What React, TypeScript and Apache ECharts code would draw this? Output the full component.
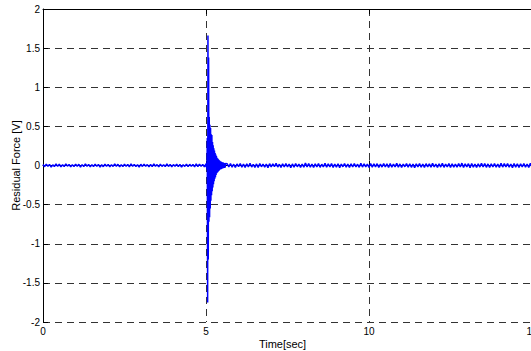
import React, { useEffect, useRef } from "react";
import * as echarts from "echarts";

// Tick values
const xTicks = [0, 5, 10, 15];
const yTicks = [-2, -1.5, -1, -0.5, 0, 0.5, 1, 1.5, 2];

// Sampling of the noise segments (seconds between samples)
const noiseStep = 0.05;
const preStart = 0;
const postStart = 5.65;

// Baseline noise before the impact (t = 0 .. 4.95)
const preNoise = [
  0.012, -0.015, 0.018, -0.009, 0.014, -0.02, 0.008, -0.013, 0.019, -0.011,
  0.016, -0.018, 0.01, -0.014, 0.021, -0.008, 0.013, -0.017, 0.009, -0.012,
  0.017, -0.01, 0.015, -0.019, 0.011, -0.014, 0.02, -0.009, 0.012, -0.016,
  0.01, -0.013, 0.018, -0.011, 0.014, -0.02, 0.009, -0.015, 0.016, -0.01,
  0.013, -0.017, 0.011, -0.012, 0.019, -0.009, 0.015, -0.018, 0.01, -0.014,
  0.017, -0.011, 0.012, -0.016, 0.02, -0.01, 0.014, -0.013, 0.009, -0.019,
  0.015, -0.012, 0.018, -0.009, 0.011, -0.017, 0.013, -0.015, 0.02, -0.01,
  0.012, -0.018, 0.016, -0.011, 0.01, -0.014, 0.019, -0.012, 0.014, -0.016,
  0.011, -0.01, 0.017, -0.015, 0.013, -0.019, 0.009, -0.012, 0.018, -0.014,
  0.015, -0.011, 0.012, -0.017, 0.02, -0.013, 0.016, -0.01, 0.014, -0.018,
];

// Impact transient (time [s], force [V])
const spikeTimes = [
  5.0, 5.01, 5.02, 5.03, 5.04, 5.05, 5.06, 5.07, 5.08, 5.09,
  5.1, 5.11, 5.12, 5.13, 5.14, 5.15, 5.16, 5.17, 5.18, 5.19,
  5.2, 5.21, 5.22, 5.23, 5.24, 5.25, 5.26, 5.27, 5.28, 5.29,
  5.3, 5.31, 5.32, 5.33, 5.34, 5.35, 5.36, 5.37, 5.38, 5.39,
  5.4, 5.41, 5.42, 5.43, 5.44, 5.45, 5.46, 5.47, 5.48, 5.49,
  5.5, 5.51, 5.52, 5.53, 5.54, 5.55, 5.56, 5.57, 5.58, 5.59, 5.6,
];
const spikeValues = [
  0.02, -0.02, 0.03, -0.05, 0.35, -1.75, 1.66, -1.2, 1.38, -0.72,
  0.62, -0.66, 0.52, -0.55, 0.48, -0.45, 0.4, -0.38, 0.39, -0.33,
  0.3, -0.28, 0.26, -0.24, 0.22, -0.2, 0.19, -0.17, 0.16, -0.15,
  0.14, -0.12, 0.12, -0.1, 0.1, -0.09, 0.09, -0.08, 0.08, -0.07,
  0.07, -0.06, 0.06, -0.05, 0.055, -0.05, 0.05, -0.045, 0.045, -0.04,
  0.04, -0.035, 0.04, -0.035, 0.035, -0.03, 0.03, -0.03, 0.03, -0.025, 0.025,
];

// Baseline noise after the impact (t = 5.65 .. 15.0)
const postNoise = [
  0.022, -0.018, 0.025, -0.02, 0.016, -0.024, 0.019, -0.015, 0.026, -0.021,
  0.018, -0.025, 0.021, -0.017, 0.028, -0.019, 0.015, -0.023, 0.02, -0.026,
  0.024, -0.016, 0.019, -0.022, 0.017, -0.027, 0.023, -0.018, 0.021, -0.015,
  0.027, -0.02, 0.016, -0.024, 0.022, -0.019, 0.025, -0.017, 0.018, -0.028,
  0.02, -0.022, 0.026, -0.016, 0.019, -0.025, 0.017, -0.021, 0.03, -0.018,
  0.023, -0.02, 0.018, -0.026, 0.021, -0.017, 0.024, -0.023, 0.016, -0.019,
  0.028, -0.021, 0.02, -0.018, 0.025, -0.024, 0.017, -0.02, 0.022, -0.027,
  0.019, -0.016, 0.026, -0.022, 0.018, -0.025, 0.021, -0.019, 0.024, -0.017,
  0.016, -0.023, 0.027, -0.02, 0.022, -0.018, 0.019, -0.026, 0.025, -0.021,
  0.02, -0.017, 0.023, -0.024, 0.018, -0.02, 0.026, -0.019, 0.021, -0.025,
  0.024, -0.022, 0.017, -0.018, 0.029, -0.021, 0.02, -0.026, 0.019, -0.016,
  0.025, -0.02, 0.022, -0.023, 0.018, -0.027, 0.021, -0.017, 0.026, -0.022,
  0.019, -0.024, 0.023, -0.018, 0.02, -0.021, 0.027, -0.019, 0.017, -0.025,
  0.022, -0.02, 0.028, -0.023, 0.019, -0.018, 0.024, -0.026, 0.021, -0.02,
  0.017, -0.022, 0.025, -0.019, 0.03, -0.024, 0.02, -0.017, 0.023, -0.028,
  0.026, -0.021, 0.018, -0.025, 0.022, -0.02, 0.027, -0.018, 0.024, -0.023,
  0.02, -0.026, 0.021, -0.019, 0.025, -0.022, 0.018, -0.024, 0.028, -0.02,
  0.023, -0.018, 0.026, -0.021, 0.019, -0.027, 0.024, -0.02, 0.022, -0.025,
  0.021, -0.019, 0.025, -0.022, 0.018, -0.024, 0.027, -0.02,
];

const FONT = "'Liberation Sans', Arial, Helvetica, sans-serif";

export default function App() {
  const ref = useRef<HTMLDivElement>(null);

  useEffect(() => {
    if (!ref.current) return;
    const chart = echarts.init(ref.current, undefined, { renderer: "svg" });

    const data: [number, number][] = [];
    preNoise.forEach((v, i) => data.push([+(preStart + i * noiseStep).toFixed(3), v]));
    spikeValues.forEach((v, i) => data.push([spikeTimes[i], v]));
    postNoise.forEach((v, i) => data.push([+(postStart + i * noiseStep).toFixed(3), v]));

    const xMin = xTicks[0];
    const xMax = xTicks[xTicks.length - 1];
    const yMin = yTicks[0];
    const yMax = yTicks[yTicks.length - 1];

    const dashed = { type: [7, 5] as number[], color: "#333", width: 1 };

    chart.setOption({
      animation: false,
      backgroundColor: "#ffffff",
      grid: {
        left: 43,
        right: -1,
        top: 9,
        bottom: 29,
        containLabel: false,
        outerBoundsMode: "none",
      },
      xAxis: [
        {
          type: "value",
          min: xMin,
          max: xMax,
          interval: 5,
          position: "bottom",
          name: "Time[sec]",
          nameLocation: "middle",
          nameGap: 16,
          nameMoveOverlap: false,
          nameTextStyle: { color: "#000", fontSize: 11, fontFamily: FONT, padding: [0, 10, 0, 0] },
          axisLine: { show: true, lineStyle: { color: "#000", width: 1 } },
          axisTick: { show: true, inside: true, length: 5, lineStyle: { color: "#000" } },
          axisLabel: { color: "#000", fontSize: 10, fontFamily: FONT, margin: 4 },
          splitLine: { show: true, lineStyle: dashed },
        },
        {
          type: "value",
          min: xMin,
          max: xMax,
          interval: 5,
          position: "top",
          axisLine: { show: true, onZero: false, lineStyle: { color: "#000", width: 1 } },
          axisTick: { show: true, inside: true, length: 5, lineStyle: { color: "#000" } },
          axisLabel: { show: false },
          splitLine: { show: false },
        },
      ],
      yAxis: {
        type: "value",
        min: yMin,
        max: yMax,
        interval: 0.5,
        name: "Residual Force [V]",
        nameLocation: "middle",
        nameGap: 22,
        nameMoveOverlap: false,
        nameTextStyle: { color: "#000", fontSize: 11, fontFamily: FONT },
        axisLine: { show: true, lineStyle: { color: "#000", width: 1 } },
        axisTick: { show: true, inside: true, length: 5, lineStyle: { color: "#000" } },
        axisLabel: { color: "#000", fontSize: 10, fontFamily: FONT, margin: 3 },
        splitLine: { show: true, lineStyle: dashed },
      },
      series: [
        {
          type: "line",
          data,
          xAxisIndex: 0,
          showSymbol: false,
          symbol: "none",
          lineStyle: { color: "#0000ff", width: 1.5 },
          z: 5,
        },
      ],
    });

    return () => chart.dispose();
  }, []);

  return (
    <div
      ref={ref}
      style={{ position: "fixed", left: 0, top: 0, width: 531, height: 351, background: "#fff" }}
    />
  );
}
